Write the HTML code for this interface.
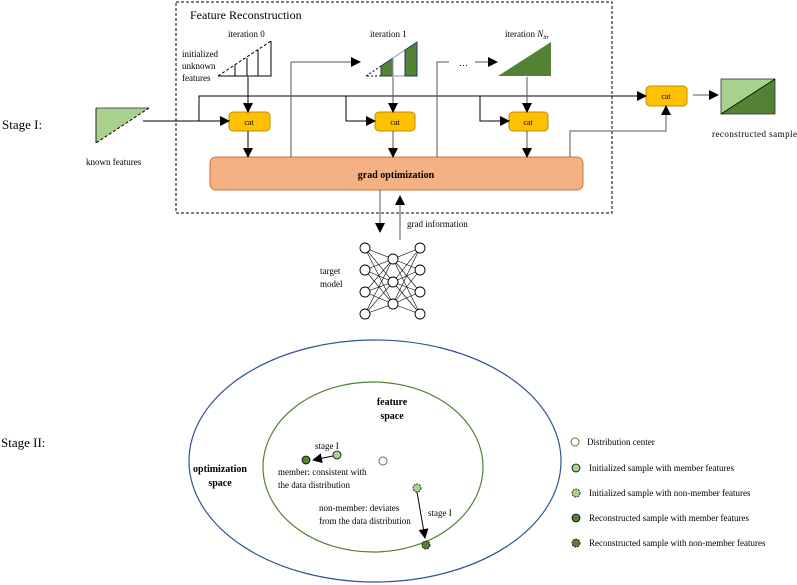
<!DOCTYPE html>
<html><head><style>body{margin:0;background:#fff}svg{display:block;font-family:"Liberation Serif",serif}</style></head><body>
<svg width="797" height="585" viewBox="0 0 797 585">
<defs><marker id="a" markerWidth="10" markerHeight="10" refX="9" refY="5" orient="auto" markerUnits="userSpaceOnUse"><path d="M0,0L10,5L0,10z" fill="#000"/></marker></defs>
<rect x="176" y="2" width="436" height="211" fill="none" stroke="#000" stroke-dasharray="3,2"/>
<text x="190" y="19" font-size="12">Feature Reconstruction</text>
<text x="2" y="129" font-size="13">Stage I:</text>
<text x="1" y="447" font-size="13">Stage II:</text>
<!-- known features -->
<path d="M96,108L149,108L96,143z" fill="#a9d18e"/>
<path d="M96,108H149" stroke="#555"/><path d="M96,108V143" stroke="#222"/>
<path d="M149,108L96,143" stroke="#000" stroke-dasharray="3,2"/>
<text x="86" y="165" font-size="9">known features</text>
<!-- iteration 0 -->
<text x="228" y="37" font-size="9">iteration 0</text>
<text x="182" y="57" font-size="9">initialized</text><text x="182" y="69" font-size="9">unknown</text><text x="182" y="81" font-size="9">features</text>
<path d="M218,76L271,41" stroke="#000" stroke-dasharray="3,2"/>
<path d="M218,76H271V41M235,76V65M247,76V58M258,76V50" stroke="#000" fill="none"/>
<!-- iteration 1 -->
<text x="370" y="37" font-size="9">iteration 1</text>
<path d="M366,76L381,66V76z" fill="none" stroke="#000" stroke-dasharray="2,2"/>
<path d="M381,66L393,58V76H381z" fill="#548235" stroke="#203864"/>
<path d="M393,58L405,50V76H393z" fill="#fff" stroke="#8497b0"/>
<path d="M405,50L417,42V76H405z" fill="#548235" stroke="#203864"/>
<!-- iteration N -->
<text x="505" y="37" font-size="9">iteration <tspan font-style="italic">N</tspan><tspan font-size="6" font-style="italic" dy="2">itr</tspan></text>
<path d="M498,76L551,42V76z" fill="#548235"/>
<text x="459" y="66" font-size="9">…</text>
<!-- cats -->
<g fill="#ffc000" stroke="#bf9000"><rect x="229" y="112" width="41" height="19" rx="4"/><rect x="375" y="112" width="40" height="19" rx="4"/><rect x="509" y="112" width="39" height="19" rx="4"/><rect x="646" y="86" width="41" height="20" rx="4"/></g>
<g font-size="8" text-anchor="middle"><text x="249" y="125">cat</text><text x="395" y="125">cat</text><text x="528" y="125">cat</text><text x="666" y="99">cat</text></g>
<rect x="210" y="157" width="373" height="33" rx="6" fill="#f4b183" stroke="#c55a11" stroke-width="0.8"/>
<text x="396" y="178" font-size="10" font-weight="bold" text-anchor="middle">grad optimization</text>
<g stroke="#000" fill="none" marker-end="url(#a)">
<path d="M143,121H229"/>
<path d="M199,121V96H646"/>
<path d="M346,96V121H375"/>
<path d="M480,96V121H509"/>
<path d="M248,77V112"/><path d="M393,77V112" stroke="#555"/><path d="M527,77V112" stroke="#555"/>
<path d="M248,131V157"/><path d="M393,131V157" stroke="#555"/><path d="M527,131V157" stroke="#555"/>
<path d="M291,157V62H360" stroke="#555"/>
<path d="M437,157V62H449" marker-end="none" stroke="#555"/><path d="M475,62H497" stroke="#555"/>
<path d="M570,157V131H666V106" stroke="#555"/>
<path d="M693,95H718" stroke="#555"/>
<path d="M380,190V232" stroke="#555"/>
<path d="M400,240V196" stroke="#555"/>
</g>
<!-- output -->
<path d="M721,79H775L721,114z" fill="#a9d18e"/><path d="M775,79V114H721z" fill="#548235"/>
<rect x="721" y="79" width="54" height="35" fill="none" stroke="#333" stroke-width="0.8"/>
<path d="M721,114L775,79" stroke="#000" stroke-width="0.8"/>
<text x="712" y="137" font-size="9" textLength="85">reconstructed sample</text>
<text x="407" y="227" font-size="9">grad information</text>
<text x="320" y="274" font-size="9">target</text><text x="320" y="287" font-size="9">model</text>
<!-- network -->
<g stroke="#000" stroke-width="0.6">
<path d="M365,248L393,259M365,248L393,282M365,248L393,304M365,270L393,259M365,270L393,282M365,270L393,304M365,292L393,259M365,292L393,282M365,292L393,304M365,314L393,259M365,314L393,282M365,314L393,304M420,248L393,259M420,248L393,282M420,248L393,304M420,270L393,259M420,270L393,282M420,270L393,304M420,292L393,259M420,292L393,282M420,292L393,304M420,314L393,259M420,314L393,282M420,314L393,304"/>
</g>
<g fill="#fff" stroke="#000" stroke-width="0.9">
<circle cx="365" cy="248" r="5"/><circle cx="365" cy="270" r="5"/><circle cx="365" cy="292" r="5"/><circle cx="365" cy="314" r="5"/>
<circle cx="393" cy="259" r="5"/><circle cx="393" cy="282" r="5"/><circle cx="393" cy="304" r="5"/>
<circle cx="420" cy="248" r="5"/><circle cx="420" cy="270" r="5"/><circle cx="420" cy="292" r="5"/><circle cx="420" cy="314" r="5"/>
</g>
<!-- stage II -->
<ellipse cx="375" cy="461" rx="186" ry="121" fill="none" stroke="#2f5597" stroke-width="1.2"/>
<ellipse cx="373" cy="467" rx="110" ry="85" fill="none" stroke="#548235" stroke-width="1.2"/>
<g font-size="10" font-weight="bold" text-anchor="middle"><text x="392" y="405">feature</text><text x="392" y="419">space</text><text x="220" y="472">optimization</text><text x="220" y="486">space</text></g>
<g font-size="9"><text x="315" y="449">stage I</text><text x="278" y="475">member: consistent with</text><text x="278" y="488">the  data distribution</text>
<text x="319" y="511">non-member: deviates</text><text x="319" y="524">from the data distribution</text><text x="428" y="516">stage I</text></g>
<path d="M333,456L313,460" stroke="#000" marker-end="url(#a)"/>
<path d="M417,492L425,538" stroke="#000" marker-end="url(#a)"/>
<circle cx="337" cy="455" r="4" fill="#a9d18e" stroke="#000" stroke-width="0.8"/>
<circle cx="306" cy="460" r="4" fill="#548235" stroke="#000" stroke-width="0.8"/>
<circle cx="383" cy="461" r="4" fill="#fff" stroke="#548235"/>
<circle cx="417" cy="488" r="4" fill="#a9d18e" stroke="#000" stroke-width="0.8" stroke-dasharray="2,1"/>
<circle cx="426" cy="545" r="4" fill="#548235" stroke="#000" stroke-width="0.8" stroke-dasharray="2,1"/>
<!-- legend -->
<circle cx="575" cy="442" r="4" fill="#fff" stroke="#548235"/>
<circle cx="576" cy="468" r="4" fill="#a9d18e" stroke="#000" stroke-width="0.8"/>
<circle cx="576" cy="493" r="4" fill="#a9d18e" stroke="#000" stroke-width="0.8" stroke-dasharray="2,1"/>
<circle cx="576" cy="518" r="4" fill="#548235" stroke="#000" stroke-width="0.8"/>
<circle cx="576" cy="543" r="4" fill="#548235" stroke="#000" stroke-width="0.8" stroke-dasharray="2,1"/>
<g font-size="9"><text x="587" y="445">Distribution center</text><text x="589" y="471">Initialized sample with member features</text><text x="589" y="496">Initialized sample with non-member features</text><text x="589" y="521">Reconstructed sample with member features</text><text x="589" y="546">Reconstructed sample with non-member features</text></g>
</svg>
</body></html>
